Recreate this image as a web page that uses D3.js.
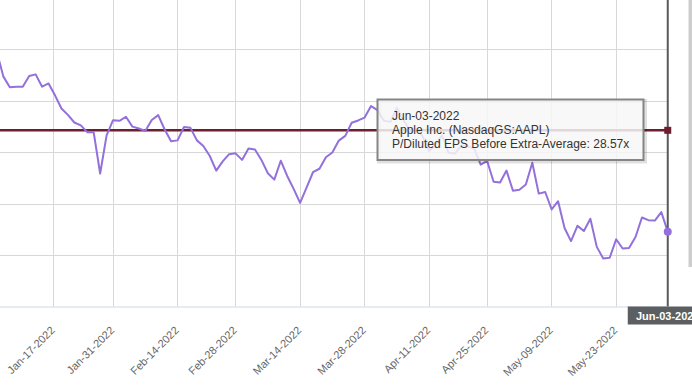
<!DOCTYPE html>
<html>
<head>
<meta charset="utf-8">
<script src="https://cdn.jsdelivr.net/npm/d3@7"></script>
<style>
  html, body { margin: 0; padding: 0; background: #fff; overflow: hidden; }
  svg { display: block; font-family: "Liberation Sans", Arial, sans-serif; }
</style>
</head>
<body>
<div id="chart"></div>
<script>
// trading days from Jan-04-2022 to Jun-03-2022 (market holidays skipped)
var startDate = "2022-01-04";
var endDate = "2022-06-03";
var holidays = ["2022-01-17", "2022-02-21", "2022-04-15", "2022-05-30"];

// P/Diluted EPS Before Extra, one value per trading day
var peValues = [
    32.35, 31.18, 30.66, 30.69, 30.69, 31.21, 31.29, 30.69, 30.85, 30.27,
    29.63, 29.32, 28.95, 28.81, 28.48, 28.47, 26.47, 28.32, 29.06,
    29.03, 29.23, 28.75, 28.66, 28.54, 29.07, 29.31, 28.61, 28.04, 28.08,
    28.73, 28.69, 28.08, 27.81, 27.32, 26.61, 27.06, 27.41, 27.45,
    27.13, 27.69, 27.64, 27.13, 26.48, 26.17, 27.09, 26.35, 25.72, 25.04,
    25.78, 26.53, 26.70, 27.26, 27.49, 28.07, 28.30, 28.94, 29.05, 29.19,
    29.75, 29.55, 29.03,
    28.98, 29.67, 29.10, 28.57, 28.62, 28.28, 27.56, 27.87, 28.33, 27.48,
    27.44, 27.83, 27.80, 27.67, 26.90, 27.08, 26.07, 26.03, 26.61, 25.63,
    25.68, 25.93, 26.99, 25.49, 25.57, 24.72, 25.12, 23.82, 23.18, 23.92,
    23.67, 24.27, 22.90, 22.33, 22.37, 23.27, 22.82, 22.85, 23.38, 24.33,
    24.20, 24.18, 24.59, 23.64
];

var averageValue = 28.57;
var tickDates = ["2022-01-17", "2022-01-31", "2022-02-14", "2022-02-28", "2022-03-14",
    "2022-03-28", "2022-04-11", "2022-04-25", "2022-05-09", "2022-05-23"];
var yTicks = [20, 22.5, 25, 27.5, 30, 32.5, 35];
var tooltipLines = ["Jun-03-2022", "Apple Inc. (NasdaqGS:AAPL)",
    "P/Diluted EPS Before Extra-Average: 28.57x"];
var crosshairLabel = "Jun-03-2022";

var width = 692, height = 391;
var plotRight = 668, plotBottom = 306.5;

var parse = d3.utcParse("%Y-%m-%d");
var fmt = d3.utcFormat("%b-%d-%Y");

// build the list of trading days
var dates = [];
d3.utcDays(parse(startDate), d3.utcDay.offset(parse(endDate), 1)).forEach(function (d) {
    var wd = d.getUTCDay();
    if (wd === 0 || wd === 6) return;
    if (holidays.indexOf(d3.utcFormat("%Y-%m-%d")(d)) >= 0) return;
    dates.push(d);
});

var data = dates.map(function (d, i) { return { date: d, value: peValues[i], i: i }; });
var n = data.length;

// points sit a few hours after midnight, ticks at midnight (ordinal axis)
var pointTimes = dates.map(function (d) { return +d + 6 * 3600 * 1000; });
var timeToIndex = d3.scaleLinear().domain(pointTimes).range(d3.range(n));

var x = d3.scaleLinear().domain([0, n - 1]).range([-3.05, 667.75]);
var y = d3.scaleLinear().domain([20, 35]).range([plotBottom, -1.9]);

var svg = d3.select("#chart").append("svg")
    .attr("width", width)
    .attr("height", height);

svg.append("defs").append("clipPath").attr("id", "plotClip")
    .append("rect").attr("x", 0).attr("y", -5).attr("width", plotRight + 4).attr("height", plotBottom + 5);

// horizontal grid
svg.append("g").selectAll("line")
    .data(yTicks.filter(function (v) { return v > 20; }))
    .join("line")
    .attr("x1", 0).attr("x2", plotRight)
    .attr("y1", function (d) { return Math.round(y(d)) + 0.5; })
    .attr("y2", function (d) { return Math.round(y(d)) + 0.5; })
    .attr("stroke", "#d8d8d8").attr("stroke-width", 1);

// vertical grid
svg.append("g").selectAll("line")
    .data(tickDates)
    .join("line")
    .attr("x1", function (d) { return Math.round(x(timeToIndex(+parse(d)))) + 0.5; })
    .attr("x2", function (d) { return Math.round(x(timeToIndex(+parse(d)))) + 0.5; })
    .attr("y1", 0).attr("y2", plotBottom)
    .attr("stroke", "#d8d8d8").attr("stroke-width", 1);

// x axis line
svg.append("line")
    .attr("x1", 0).attr("x2", plotRight)
    .attr("y1", plotBottom + 0.5).attr("y2", plotBottom + 0.5)
    .attr("stroke", "#ccd6eb").attr("stroke-width", 1);

// x tick labels
svg.append("g").selectAll("text")
    .data(tickDates)
    .join("text")
    .attr("transform", function (d) {
        return "translate(" + (x(timeToIndex(+parse(d))) + 2.5) + "," + 331 + ") rotate(-45)";
    })
    .attr("text-anchor", "end")
    .style("font-size", "11px")
    .attr("fill", "#666666")
    .text(function (d) { return fmt(parse(d)); });

// average line
svg.append("line")
    .attr("x1", 0).attr("x2", x(n - 1))
    .attr("y1", y(averageValue)).attr("y2", y(averageValue))
    .attr("stroke", "#6d1f30").attr("stroke-width", 2.5);

// P/E line
var line = d3.line()
    .x(function (d) { return x(d.i); })
    .y(function (d) { return y(d.value); });

svg.append("path")
    .datum(data)
    .attr("clip-path", "url(#plotClip)")
    .attr("d", line)
    .attr("fill", "none")
    .attr("stroke", "#9370db")
    .attr("stroke-width", 2)
    .attr("stroke-linejoin", "round");

// crosshair
var last = data[n - 1];
svg.append("line")
    .attr("x1", x(last.i)).attr("x2", x(last.i))
    .attr("y1", 0).attr("y2", plotBottom)
    .attr("stroke", "#595959").attr("stroke-width", 2);

svg.append("rect")
    .attr("x", x(last.i) - 3.5).attr("y", y(averageValue) - 3.5)
    .attr("width", 7).attr("height", 7)
    .attr("fill", "#6d1f30");

svg.append("circle")
    .attr("cx", x(last.i)).attr("cy", y(last.value))
    .attr("r", 4)
    .attr("fill", "#9370db");

// crosshair label
var lab = svg.append("g").attr("transform", "translate(" + x(last.i) + "," + plotBottom + ")");
lab.append("rect")
    .attr("x", -40).attr("y", 0).attr("width", 80).attr("height", 18)
    .attr("fill", "#5b5f61");
lab.append("text")
    .attr("x", 0).attr("y", 13.5)
    .attr("text-anchor", "middle")
    .style("font-size", "11px")
    .attr("font-weight", 700)
    .attr("fill", "#ffffff")
    .text(crosshairLabel);

// tooltip
var tip = svg.append("g").attr("transform", "translate(377.5,99.5)");
tip.append("rect")
    .attr("x", 1.5).attr("y", 1.5).attr("width", 266).attr("height", 60.5)
    .attr("fill", "none").attr("stroke", "rgba(0,0,0,0.12)").attr("stroke-width", 4);
tip.append("rect")
    .attr("x", 0).attr("y", 0).attr("width", 266).attr("height", 60.5)
    .attr("fill", "rgba(247,247,247,0.85)")
    .attr("stroke", "#858585").attr("stroke-width", 2);
tip.selectAll("text.tl")
    .data(tooltipLines)
    .join("text")
    .attr("class", "tl")
    .attr("x", 14.5)
    .attr("y", function (d, i) { return 20.5 + i * 14; })
    .style("font-size", "12px")
    .attr("fill", "#333333")
    .text(function (d) { return d; });

// page scrollbar strip at the right edge
svg.append("rect")
    .attr("x", 688.5).attr("y", 0).attr("width", 4).attr("height", 267)
    .attr("fill", "#cdcdcd");
</script>
</body>
</html>
